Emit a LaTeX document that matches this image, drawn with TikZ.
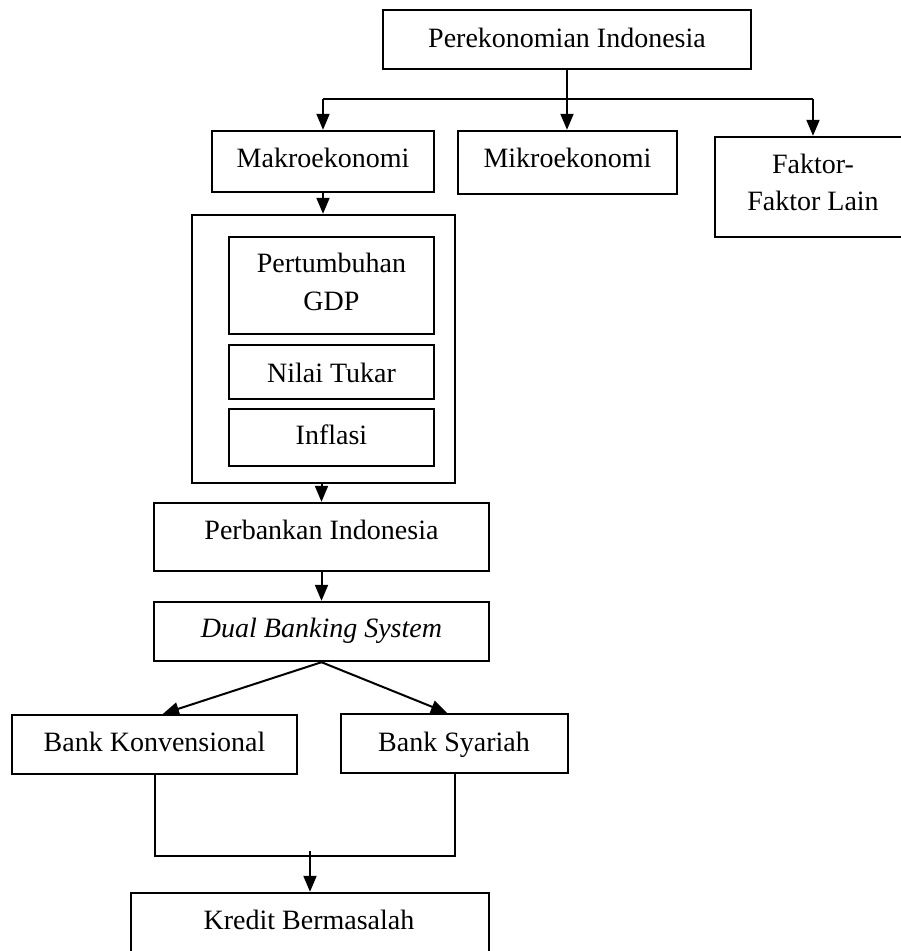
\documentclass[tikz,border=0pt]{standalone}
\usepackage{fontspec}
\setmainfont{Liberation Serif}
\usetikzlibrary{arrows.meta,calc}
\begin{document}
\begin{tikzpicture}[x=1pt,y=-1pt,
  box/.style={draw, line width=2.4pt, rectangle, inner sep=0pt},
  txt/.style={anchor=base, inner sep=0pt, font=\fontsize{28}{37.5}\selectfont},
  mtxt/.style={anchor=center, inner sep=0pt, align=center, font=\fontsize{28}{37.5}\selectfont},
  con/.style={line width=2pt},
  arr/.style={con, -{Triangle[length=16pt,width=13pt]}}]
\useasboundingbox (0,0) rectangle (901,951);
\clip (0,0) rectangle (901,951);
\fill[white] (0,0) rectangle (901,951);

% boxes
\node[box, minimum width=368pt, minimum height=59pt] (top) at (567,39.5) {};
\node[box, minimum width=222pt, minimum height=61pt] (makro) at (323,161.5) {};
\node[box, minimum width=219pt, minimum height=63pt] (mikro) at (567.5,162.5) {};
\node[box, minimum width=200pt, minimum height=100pt] (faktor) at (815,187) {};
\node[box, minimum width=263pt, minimum height=268pt] (outer) at (323.5,349) {};
\node[box, minimum width=205pt, minimum height=97pt] (gdp) at (331.5,285.5) {};
\node[box, minimum width=205pt, minimum height=54pt] (nilai) at (331.5,372) {};
\node[box, minimum width=205pt, minimum height=57pt] (inflasi) at (331.5,437.5) {};
\node[box, minimum width=335pt, minimum height=68pt] (perb) at (321.5,537) {};
\node[box, minimum width=335pt, minimum height=59pt] (dual) at (321.5,631.5) {};
\node[box, minimum width=285pt, minimum height=59pt] (bankk) at (154.5,744.5) {};
\node[box, minimum width=227pt, minimum height=59pt] (banks) at (454.5,743.5) {};
\node[box, minimum width=358pt, minimum height=100pt] (kredit) at (310,943) {};

% texts
\node[txt] (ttop) at (567,47) {Perekonomian Indonesia};
\node[txt] (tmakro) at (323,167) {Makroekonomi};
\node[txt] (tmikro) at (567.5,167) {Mikroekonomi};
\node[mtxt] (tfaktor) at (813,182.5) {Faktor-\\Faktor Lain};
\node[mtxt] (tgdp) at (331.5,282) {Pertumbuhan\\GDP};
\node[txt] (tnilai) at (331.5,382) {Nilai Tukar};
\node[txt] (tinflasi) at (331.5,444) {Inflasi};
\node[txt] (tperb) at (321.5,539) {Perbankan Indonesia};
\node[txt] (tdual) at (321.5,637) {\itshape Dual Banking System};
\node[txt] (tbankk) at (154.5,751) {Bank Konvensional};
\node[txt] (tbanks) at (454,751) {Bank Syariah};
\node[txt] (tkredit) at (309,929) {Kredit Bermasalah};

% connectors
\coordinate (bar) at (0,99);
\coordinate (join) at (0,856);
\coordinate (jstart) at (0,851);
\coordinate (fin) at ($(faktor.north)+(-2,0)$);
\draw[arr] (top.south) -- (top.south |- mikro.north);
\draw[con] (makro.north |- bar) -- (fin |- bar);
\draw[arr] (makro.north |- bar) -- (makro.north);
\draw[arr] (fin |- bar) -- (fin);
\draw[arr] (makro.south) -- (makro.south |- outer.north);
\draw[arr] (perb.north |- outer.south) -- (perb.north);
\draw[arr] (perb.south) -- (dual.north);
\draw[arr] (dual.south) -- ($(bankk.north)+(8.5,0)$);
\draw[arr] (dual.south) -- ($(banks.north)+(-7.5,0)$);
\draw[con] (bankk.south) -- (bankk.south |- join) -- (banks.south |- join) -- (banks.south);
\draw[arr] (kredit.north |- jstart) -- (kredit.north);
\end{tikzpicture}
\end{document}
